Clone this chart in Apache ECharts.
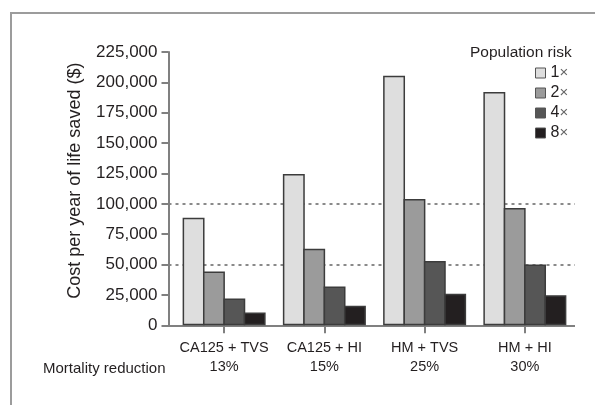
<!DOCTYPE html>
<html>
<head>
<meta charset="utf-8">
<script src="https://cdn.jsdelivr.net/npm/echarts@6/dist/echarts.min.js"></script>
<style>
  html, body { margin: 0; padding: 0; background: #fff; }
  #wrap { position: relative; width: 595px; height: 405px; overflow: hidden; }
  #chart { position: absolute; left: 0; top: 0; width: 575px; height: 405px; }
  #frame { position: absolute; left: 10px; top: 12px; width: 600px; height: 420px;
           border-left: 2px solid #9c9c9c; border-top: 2px solid #9c9c9c; pointer-events: none; }
</style>
</head>
<body>
<div id="wrap"><div id="chart"></div><div id="frame"></div></div>
<script>
const categories = ['CA125 + TVS', 'CA125 + HI', 'HM + TVS', 'HM + HI'];
const mortalityReduction = ['13%', '15%', '25%', '30%'];
const riskNames = ['1×', '2×', '4×', '8×'];
const risk1x = [88500, 124500, 205500, 192000];
const risk2x = [44300, 63000, 104000, 96500];
const risk4x = [22000, 32000, 53000, 50000];
const risk8x = [10600, 16000, 26000, 24800];
const yTicks = [0, 25000, 50000, 75000, 100000, 125000, 150000, 175000, 200000, 225000];
const thresholds = [50000, 100000];

const seriesValues = [risk1x, risk2x, risk4x, risk8x];
const colors = ['#dedede', '#9b9b9b', '#565656', '#231f20'];
const FONT = "'Liberation Sans', Arial, sans-serif";
const TXT = '#231f20';
const AX = '#808080';

const splitColors = yTicks.map(v => thresholds.includes(v) ? '#8a8a8a' : 'rgba(0,0,0,0)');

const chart = echarts.init(document.getElementById('chart'));
chart.setOption({
  animation: false,
  textStyle: { fontFamily: FONT, color: TXT },
  title: [
    { text: 'Mortality reduction', left: 43, top: 361, padding: 0,
      textStyle: { fontFamily: FONT, fontSize: 15, fontWeight: 'normal', color: TXT } },
    { text: 'Population risk', left: 470, top: 45, padding: 0,
      textStyle: { fontFamily: FONT, fontSize: 15.5, fontWeight: 'normal', color: TXT } }
  ],
  legend: {
    orient: 'vertical', left: 535, top: 65, padding: 0,
    itemWidth: 10, itemHeight: 10, itemGap: 4, selectedMode: false,
    icon: 'rect',
    data: riskNames,
    formatter: n => '{a|' + n.slice(0, -1) + '}{b|×}',
    textStyle: {
      fontFamily: FONT, lineHeight: 16,
      rich: { a: { fontSize: 16, color: TXT, fontFamily: FONT }, b: { fontSize: 15, color: '#666', fontFamily: FONT } }
    },
    itemStyle: { borderWidth: 1, borderColor: '#555' }
  },
  grid: [
    { left: 174, top: 52, width: 410, height: 273.3 },
    { left: 168.5, top: 52, width: 415.5, height: 273.3 }
  ],
  xAxis: [
    { type: 'category', gridIndex: 0, data: categories,
      axisLine: { show: false },
      axisTick: { show: true, alignWithLabel: true, length: 8, lineStyle: { color: AX, width: 2 } },
      axisLabel: { interval: 0, margin: 13, fontFamily: FONT, fontSize: 14.5, lineHeight: 19, color: TXT,
        formatter: (v, i) => v + '\n' + mortalityReduction[i] } },
    { type: 'category', gridIndex: 1, data: categories,
      axisLine: { show: true, lineStyle: { color: AX, width: 2 } },
      axisTick: { show: false }, axisLabel: { show: false } }
  ],
  yAxis: [
    { type: 'value', gridIndex: 0, min: 0, max: 225000, interval: 25000, show: false,
      splitLine: { show: false } },
    { type: 'value', gridIndex: 1, min: 0, max: 225000, interval: 25000,
      name: 'Cost per year of life saved ($)', nameLocation: 'middle', nameGap: 84,
      nameTextStyle: { fontFamily: FONT, fontSize: 18, color: TXT, padding: [0, 0, 0, 16] },
      axisLine: { show: true, lineStyle: { color: AX, width: 2 } },
      axisTick: { show: true, length: 7, lineStyle: { color: AX, width: 2 } },
      axisLabel: { margin: 11, fontFamily: FONT, fontSize: 17, color: TXT,
        formatter: v => v.toLocaleString('en-US') },
      splitLine: { show: true, lineStyle: { color: splitColors, width: 2, type: [3, 4] } }
    }
  ],
  series: seriesValues.map((vals, k) => ({
    name: riskNames[k], type: 'bar', xAxisIndex: 0, yAxisIndex: 0,
    data: vals, barGap: '-7%', barWidth: 21.9,
    itemStyle: { color: colors[k], borderColor: '#3c3c3c', borderWidth: 1.5 }
  }))
});
</script>
</body>
</html>
